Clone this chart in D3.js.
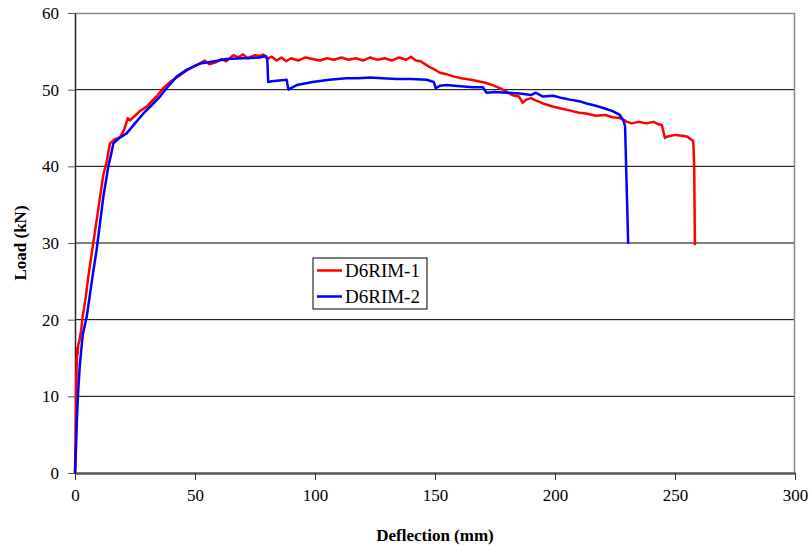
<!DOCTYPE html>
<html>
<head>
    <meta charset="UTF-8">
    <title>Load vs Deflection</title>
    <style>
        body { margin: 0; background: #fff; }
        text { font-family: "Liberation Serif", "Times New Roman", serif; }
    </style>
</head>
<body>
    <script src="https://d3js.org/d3.v7.min.js"></script>
    <svg width="812" height="552"></svg>
    <script>
        let svg = d3.select("svg");

        // series names and colours
        let series_names = ['D6RIM-1', 'D6RIM-2'];
        let series_colors = ['#ff0000', '#0000ff'];

        // D6RIM-1: [deflection mm, load kN]
        let d6rim1 = [
            [0,0],[0.2,4],[0.4,9],[0.5,13],[0.6,11],[0.7,15],[0.8,14],[0.9,16.3],[1.1,15.5],[1.4,16.8],
            [1.8,17.2],[2.5,18.5],[3.2,20.4],[4.5,23],[5.5,25.5],[7.6,30],[9.5,34],[11.8,38.9],[13.2,40.6],
            [14,42],[14.6,43.0],[16.5,43.5],[18.75,43.8],[20.5,44.8],[22,46.3],[22.9,46.0],[25,46.6],
            [27,47.2],[29.9,47.8],[32,48.5],[34.5,49.3],[36.8,50.2],[40,51.1],[43.75,51.9],[47,52.6],
            [50,53.1],[52,53.4],[54,53.8],[56,53.3],[59,53.6],[61,54.0],[63,53.7],[66,54.5],[68,54.2],
            [70,54.6],[72,54.1],[75,54.5],[77,54.4],[78.5,54.6],[80,54.0],[82,54.3],[84,53.8],[86,54.2],
            [88,53.7],[90,54.1],[93,53.8],[96,54.2],[99,54.0],[102,53.8],[105,54.1],[108,53.9],[111,54.2],
            [114,53.9],[117,54.1],[120,53.8],[123,54.2],[126,53.9],[129,54.1],[132,53.8],[135,54.2],
            [138,53.9],[140,54.3],[142,53.8],[144,53.7],[146,53.3],[148,52.9],[150,52.6],[152,52.2],
            [155,52.0],[158,51.7],[161,51.5],[165,51.3],[168,51.1],[171,50.9],[174,50.6],[177,50.2],
            [180,49.7],[182,49.3],[185,49.1],[186.5,48.3],[188,48.7],[190,48.9],[192,48.6],[195,48.2],
            [199,47.8],[203,47.5],[206,47.3],[210,47.0],[213,46.9],[217,46.6],[221,46.7],[224,46.4],
            [227,46.3],[229,46.0],[230,45.8],[232,45.6],[235,45.8],[238,45.6],[241,45.8],[243,45.5],
            [244.5,45.4],[245.8,43.7],[247,43.9],[250,44.1],[253,44.0],[255,43.9],[257.6,43.3],
            [258,40],[258.3,29.7]
        ];

        // D6RIM-2: [deflection mm, load kN]
        let d6rim2 = [
            [0,0],[0.5,4],[0.8,7],[1.2,10],[2,14],[3.2,18],[4.9,20.4],[7,25],[9.0,29.1],[11.8,36.0],
            [13.9,40.0],[15,41.5],[16,43.0],[18.5,43.7],[21.5,44.3],[25,45.6],[28.5,46.9],[32,48.0],
            [35.4,49.1],[39,50.5],[42.4,51.7],[46,52.5],[49.3,53.0],[52,53.4],[56.25,53.6],[60,53.8],
            [63.2,54.0],[70,54.1],[77,54.2],[79.5,54.4],[80.1,54.1],[80.5,51.0],[82,51.1],[88.2,51.3],
            [88.9,50.0],[90,50.2],[92.4,50.6],[99,51.0],[106,51.3],[113,51.5],[118,51.5],[123,51.6],
            [128,51.5],[134,51.4],[140,51.4],[146.5,51.3],[149.5,51.0],[150.3,50.2],[152,50.5],
            [155,50.6],[158,50.5],[161.8,50.4],[166,50.3],[170,50.3],[171.5,49.6],[175,49.7],[180,49.6],
            [185.4,49.5],[190,49.3],[192,49.6],[195,49.1],[199.3,49.2],[203,48.9],[206.25,48.7],
            [210,48.5],[213.2,48.2],[217,47.9],[220.1,47.6],[224,47.2],[227,46.7],[228.5,46.0],
            [229.2,45.2],[229.8,38],[230.5,29.9]
        ];

        let x_ticks = [0, 50, 100, 150, 200, 250, 300];
        let y_ticks = [0, 10, 20, 30, 40, 50, 60];

        // plot area
        let margin = { left: 75, top: 13 },
            width = 720,
            height = 460;

        let x = d3.scaleLinear().domain([0, 300]).range([margin.left, margin.left + width]);
        let y = d3.scaleLinear().domain([0, 60]).range([margin.top + height, margin.top]);

        // gridlines
        svg.append("g")
            .selectAll("line")
            .data(y_ticks.filter(d => d > 0 && d < 60))
            .enter().append("line")
            .attr("x1", x(0)).attr("x2", x(300))
            .attr("y1", d => y(d)).attr("y2", d => y(d))
            .attr("stroke", "#000").attr("stroke-width", 1);

        // top and right border
        svg.append("path")
            .attr("d", `M${x(0)},${y(60) + 0.5}H${x(300) - 0.5}V${y(0)}`)
            .attr("fill", "none").attr("stroke", "#888").attr("stroke-width", 1.5);

        // axes
        let x_axis = svg.append("g")
            .attr("transform", `translate(0,${y(0)})`)
            .call(d3.axisBottom(x).tickValues(x_ticks).tickSize(7).tickPadding(9).tickSizeOuter(0));
        x_axis.select(".domain").attr("stroke", "#555").attr("stroke-width", 2.5);
        x_axis.selectAll(".tick line").attr("stroke", "#333");
        x_axis.selectAll("text").attr("font-size", 17).attr("fill", "#000")
            .style("font-family", "'Liberation Serif', serif");

        let y_axis = svg.append("g")
            .attr("transform", `translate(${x(0)},0)`)
            .call(d3.axisLeft(y).tickValues(y_ticks).tickSize(7).tickPadding(9).tickSizeOuter(0));
        y_axis.select(".domain").attr("stroke", "#222").attr("stroke-width", 1.5);
        y_axis.selectAll(".tick line").attr("stroke", "#555");
        y_axis.selectAll("text").attr("font-size", 17).attr("fill", "#000")
            .style("font-family", "'Liberation Serif', serif");

        // lines
        let line = d3.line().x(d => x(d[0])).y(d => y(d[1]));
        [d6rim1, d6rim2].forEach((data, i) => {
            svg.append("path")
                .datum(data)
                .attr("fill", "none")
                .attr("stroke", series_colors[i])
                .attr("stroke-width", 2.5)
                .attr("stroke-linejoin", "round")
                .attr("d", line);
        });

        // axis titles
        svg.append("text")
            .attr("x", margin.left + width / 2).attr("y", 541)
            .attr("text-anchor", "middle")
            .attr("font-size", 17).attr("font-weight", "bold")
            .text("Deflection (mm)");

        svg.append("text")
            .attr("transform", `translate(26,${margin.top + height / 2}) rotate(-90)`)
            .attr("text-anchor", "middle")
            .attr("font-size", 17).attr("font-weight", "bold")
            .text("Load (kN)");

        // legend
        let legend = svg.append("g").attr("transform", "translate(313,258)");
        legend.append("rect")
            .attr("width", 114).attr("height", 51)
            .attr("fill", "#fff").attr("stroke", "#000").attr("stroke-width", 1);
        series_names.forEach((name, i) => {
            let ly = 12.5 + i * 26;
            legend.append("line")
                .attr("x1", 4).attr("x2", 29)
                .attr("y1", ly).attr("y2", ly)
                .attr("stroke", series_colors[i]).attr("stroke-width", 2.5);
            legend.append("text")
                .attr("x", 32).attr("y", ly + 6.5)
                .attr("font-size", 19)
                .text(name);
        });
    </script>
</body>
</html>
